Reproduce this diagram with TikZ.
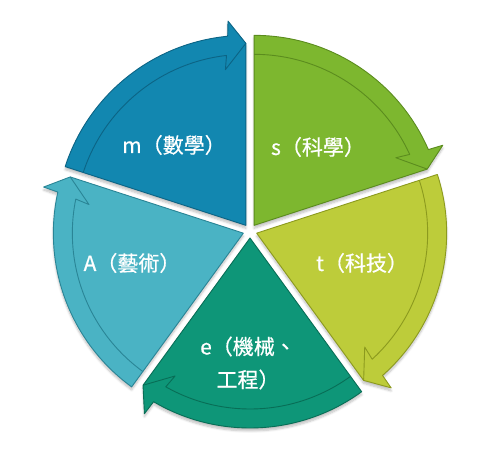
\documentclass[tikz,border=0pt]{standalone}
\usepackage{fontspec}
\setmainfont{Noto Sans CJK TC}
\newfontfamily\labelfont{Noto Sans CJK TC}[FakeBold=0.6]
\usetikzlibrary{shadows.blur}

\definecolor{mfill}{HTML}{1287B0}
\definecolor{mline}{HTML}{0C6485}
\definecolor{sfill}{HTML}{7DB72F}
\definecolor{sline}{HTML}{5B8C1E}
\definecolor{tfill}{HTML}{BDCC3A}
\definecolor{tline}{HTML}{8C9A1E}
\definecolor{efill}{HTML}{0E9678}
\definecolor{eline}{HTML}{086E56}
\definecolor{afill}{HTML}{4AB3C4}
\definecolor{aline}{HTML}{2A8596}

\tikzset{
  segbody/.style={line width=0.9pt, line join=round,
    blur shadow={shadow xshift=0pt, shadow yshift=-3pt, shadow opacity=25, shadow blur steps=6}},
  segband/.style={line width=0.9pt, line join=round},
  seglabel/.style={text=white, font=\labelfont\fontsize{21}{33}\selectfont, align=center}
}

\begin{document}
\begin{tikzpicture}[x=1pt,y=1pt]
\useasboundingbox (0,0) rectangle (491,459);
\foreach \aa/\bb/\fc/\lc in {162/90/mfill/mline, 90/18/sfill/sline, 18/-54/tfill/tline, -54/-126/efill/eline, 234/162/afill/aline}{
  \begin{scope}[shift={(250,228)}, shift={({(\aa+\bb)/2}:7)}]
    \fill[segbody, fill=\fc, draw=\lc] (0,0) -- (\aa:190) arc[start angle=\aa, end angle=\bb+5.5, radius=190pt]
      -- (\bb+5:205) -- (\bb:182) -- cycle;
    \draw[segband, draw=\lc] (\bb:182) -- (\bb+7.5:157) -- (\bb+6.5:171)
      arc[start angle=\bb+6.5, end angle=\aa, radius=171pt];
  \end{scope}
}
\node[seglabel] (math) at (174,314) {m（數學）};
\node[seglabel] (sci) at (318,312) {s（科學）};
\node[seglabel] (tech) at (362,196) {t（科技）};
\node[seglabel] (eng) at (248,96) {e（機械、\\工程）};
\node[seglabel] (art) at (132,196) {A（藝術）};
\end{tikzpicture}
\end{document}
